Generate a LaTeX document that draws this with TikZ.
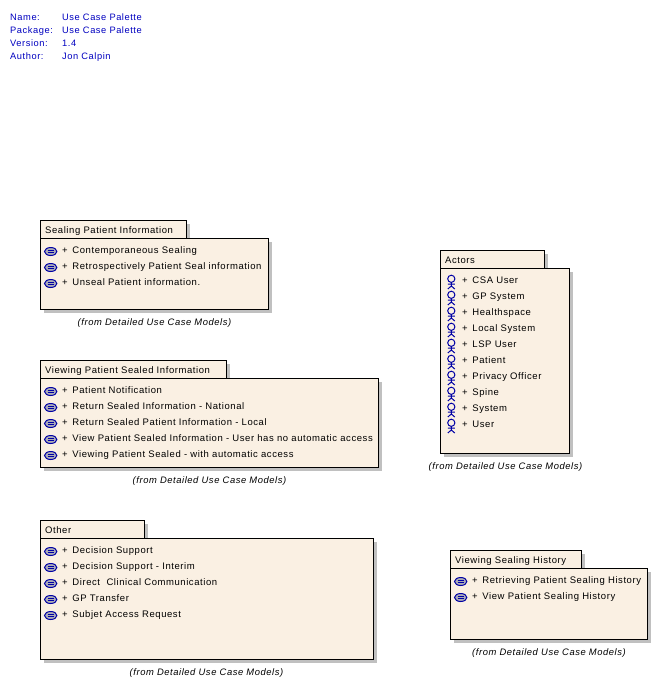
\documentclass[tikz,border=0pt]{standalone}
\usepackage{fontspec}
\setmainfont[LetterSpace=6]{Liberation Sans}
\definecolor{pkgfill}{RGB}{250,240,227}
\definecolor{shade}{RGB}{192,192,192}
\definecolor{ink}{RGB}{0,0,192}
\definecolor{iconink}{RGB}{0,0,165}
\definecolor{iconfill}{RGB}{172,172,182}
\newcommand{\pl}{+\hspace{1.5pt}\ }
\tikzset{
  x=1pt,y=-1pt,
  lbl/.style={font=\fontsize{9.5}{11}\selectfont,anchor=base west,inner sep=0pt,text=black,yshift=-3.5pt},
  meta/.style={lbl,font=\fontsize{9.3}{11}\selectfont,text=ink},
  from/.style={font=\fontsize{9.4}{11}\selectfont\itshape,anchor=base,inner sep=0pt,yshift=-3.5pt},
  shadowbox/.style={fill=shade,draw=none},
  pkgbox/.style={fill=pkgfill,draw=black,line width=1pt},
  tabbox/.style={fill=pkgfill,draw=black,line width=1pt},
  usecase/.pic={
    \draw[iconink,fill=iconfill,line width=1pt] (0,0) ellipse [x radius=6.2,y radius=4];
    \draw[iconink,line width=0.9pt] (-3,-1.2) -- (3,-1.2) (-3,1.2) -- (3,1.2);
  },
  actor/.pic={
    \draw[iconink,line width=1pt] (0,-1.2) circle [radius=3.6];
    \draw[iconink,line width=1pt] (0,2.4) -- (0,6) (-3.5,4.2) -- (3.5,4.2) (-3.5,9) -- (0,6) -- (3.5,9);
  }
}
\newcommand{\pkgdraw}[6]{% x0,ytab,xtab,ybody,x1,y1
  \fill[shadowbox] (#1+3,#2+3) rectangle (#3+3,#4+3);
  \fill[shadowbox] (#1+3,#4+3) rectangle (#5+3,#6+3);
  \draw[tabbox] (#1,#2) rectangle (#3,#4);
  \draw[pkgbox] (#1,#4) rectangle (#5,#6);
}
\begin{document}
\begin{tikzpicture}
\useasboundingbox (0,0) rectangle (658,683);
\fill[white] (0,0) rectangle (658,683);
% header
\node[meta] (n1) at (10,17) {Name:};
\node[meta] (v1) at (62,17) {Use Case Palette};
\node[meta] (n2) at (10,30) {Package:};
\node[meta] (v2) at (62,30) {Use Case Palette};
\node[meta] (n3) at (10,43) {Version:};
\node[meta] (v3) at (62,43) {1.4};
\node[meta] (n4) at (10,56) {Author:};
\node[meta] (v4) at (62,56) {Jon Calpin};
% Sealing
\pkgdraw{40.5}{220.5}{186.5}{238.5}{268.5}{309.5}
\node[lbl] (at) at (45,230) {Sealing Patient Information};
\foreach \y/\t [count=\i] in {250/{\pl Contemporaneous Sealing},266/{\pl Retrospectively Patient Seal information},282/{\pl Unseal Patient information.}}{
  \pic at (50.7,\y+1.5) {usecase};
  \node[lbl] (a\i) at (62,\y) {\t};
}
\node[from] (af) at (154.5,322) {(from Detailed Use Case Models)};
% Viewing
\pkgdraw{40.5}{360.5}{226.5}{378.5}{378.5}{467.5}
\node[lbl] (bt) at (45,370) {Viewing Patient Sealed Information};
\foreach \y/\t [count=\i] in {390/{\pl Patient Notification},406/{\pl Return Sealed Information - National},422/{\pl Return Sealed Patient Information - Local},438/{\pl View Patient Sealed Information - User has no automatic access},454/{\pl Viewing Patient Sealed - with automatic access}}{
  \pic at (50.7,\y+1.5) {usecase};
  \node[lbl] (b\i) at (62,\y) {\t};
}
\node[from] (bf) at (209.5,480) {(from Detailed Use Case Models)};
% Other
\pkgdraw{40.5}{520.5}{144.5}{538.5}{373.5}{659.5}
\node[lbl] (ct) at (45,530) {Other};
\foreach \y/\t [count=\i] in {550/{\pl Decision Support},566/{\pl Decision Support - Interim},582/{\pl Direct\ \ Clinical Communication},598/{\pl GP Transfer},614/{\pl Subjet Access Request}}{
  \pic at (50.7,\y+1.5) {usecase};
  \node[lbl] (c\i) at (62,\y) {\t};
}
\node[from] (cf) at (206.5,672) {(from Detailed Use Case Models)};
% Actors
\pkgdraw{440.5}{250.5}{544.5}{268.5}{569.5}{453.5}
\node[lbl] (dt) at (445,260) {Actors};
\foreach \y/\t [count=\i] in {280/{\pl CSA User},296/{\pl GP System},312/{\pl Healthspace},328/{\pl Local System},344/{\pl LSP User},360/{\pl Patient},376/{\pl Privacy Officer},392/{\pl Spine},408/{\pl System},424/{\pl User}}{
  \pic at (451.3,\y) {actor};
  \node[lbl] (d\i) at (462,\y) {\t};
}
\node[from] (df) at (505.5,466) {(from Detailed Use Case Models)};
% History
\pkgdraw{450.5}{550.5}{581.5}{568.5}{647.5}{639.5}
\node[lbl] (et) at (455,560) {Viewing Sealing History};
\foreach \y/\t [count=\i] in {580/{\pl Retrieving Patient Sealing History},596/{\pl View Patient Sealing History}}{
  \pic at (460.7,\y+1.5) {usecase};
  \node[lbl] (e\i) at (472,\y) {\t};
}
\node[from] (ef) at (549,652) {(from Detailed Use Case Models)};
\end{tikzpicture}
\end{document}
